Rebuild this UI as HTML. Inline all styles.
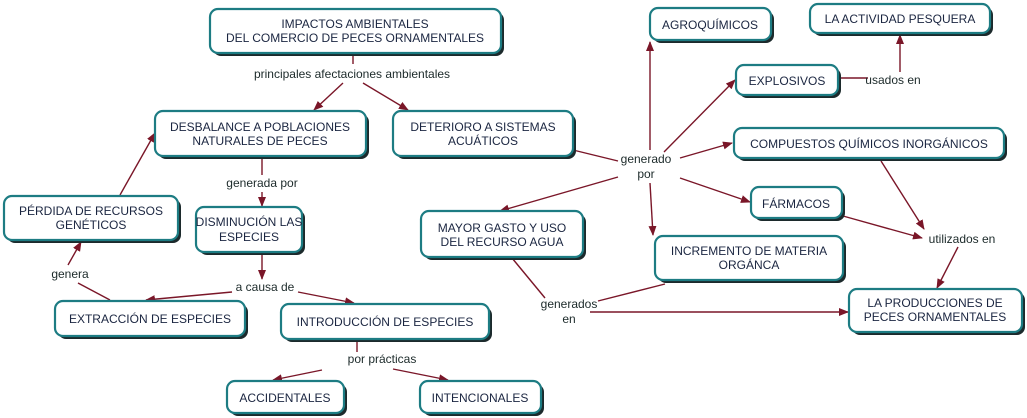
<!DOCTYPE html>
<html><head><meta charset="utf-8"><style>
html,body{margin:0;padding:0;background:#fff;}
svg{display:block;}
.b{fill:#fff;stroke:#1d7c83;stroke-width:2.2;}
.s{fill:#1c2a2c;}
.t{font-family:"Liberation Sans",sans-serif;font-size:12px;fill:#1a2540;text-anchor:middle;}
.l{font-family:"Liberation Sans",sans-serif;font-size:12px;fill:#1c2a2a;text-anchor:middle;}
.c{stroke:#7a1628;stroke-width:1.4;fill:none;}
</style></head><body>
<svg width="1027" height="418" viewBox="0 0 1027 418">
<defs><marker id="a" markerWidth="10" markerHeight="8" refX="9" refY="4" orient="auto" markerUnits="userSpaceOnUse"><path d="M0,0 L10,4 L0,8 z" fill="#7a1628"/></marker></defs>
<g class="c">
<line x1="353" y1="55" x2="353" y2="64"/>
<line x1="343" y1="83" x2="314" y2="110" marker-end="url(#a)"/>
<line x1="363" y1="83" x2="408" y2="110" marker-end="url(#a)"/>
<line x1="262" y1="157" x2="262" y2="175"/>
<line x1="262" y1="192" x2="262" y2="206" marker-end="url(#a)"/>
<line x1="262" y1="253" x2="262" y2="279" marker-end="url(#a)"/>
<line x1="232" y1="292" x2="146" y2="300" marker-end="url(#a)"/>
<line x1="298" y1="292" x2="354" y2="303" marker-end="url(#a)"/>
<line x1="110" y1="300" x2="78" y2="283"/>
<line x1="68" y1="265" x2="81" y2="242" marker-end="url(#a)"/>
<line x1="120" y1="195" x2="155" y2="133" marker-end="url(#a)"/>
<line x1="357" y1="340" x2="357" y2="352"/>
<line x1="322" y1="370" x2="273" y2="380" marker-end="url(#a)"/>
<line x1="393" y1="369" x2="448" y2="380" marker-end="url(#a)"/>
<line x1="573" y1="150" x2="618" y2="161"/>
<line x1="650" y1="150" x2="650" y2="42" marker-end="url(#a)"/>
<line x1="664" y1="152" x2="735" y2="80" marker-end="url(#a)"/>
<line x1="680" y1="158" x2="732" y2="143" marker-end="url(#a)"/>
<line x1="680" y1="178" x2="750" y2="202" marker-end="url(#a)"/>
<line x1="650" y1="183" x2="653" y2="235" marker-end="url(#a)"/>
<line x1="618" y1="177" x2="500" y2="211" marker-end="url(#a)"/>
<line x1="838" y1="78" x2="868" y2="78"/>
<line x1="900" y1="72" x2="900" y2="35" marker-end="url(#a)"/>
<line x1="881" y1="161" x2="924" y2="229" marker-end="url(#a)"/>
<line x1="843" y1="216" x2="922" y2="238" marker-end="url(#a)"/>
<line x1="958" y1="247" x2="937" y2="288" marker-end="url(#a)"/>
<line x1="512" y1="258" x2="545" y2="298"/>
<line x1="665" y1="284" x2="598" y2="301"/>
<line x1="590" y1="312" x2="848" y2="312" marker-end="url(#a)"/>
</g>
<g>
<rect class="s" x="213" y="12" width="291" height="44" rx="8"/><rect class="b" x="210" y="9" width="291" height="44" rx="8"/>
<rect class="s" x="158" y="114" width="211" height="45" rx="8"/><rect class="b" x="155" y="111" width="211" height="45" rx="8"/>
<rect class="s" x="396" y="114" width="180" height="45" rx="8"/><rect class="b" x="393" y="111" width="180" height="45" rx="8"/>
<rect class="s" x="7" y="199" width="174" height="44" rx="8"/><rect class="b" x="4" y="196" width="174" height="44" rx="8"/>
<rect class="s" x="199" y="210" width="106" height="45" rx="8"/><rect class="b" x="196" y="207" width="106" height="45" rx="8"/>
<rect class="s" x="58" y="304" width="190" height="35" rx="8"/><rect class="b" x="55" y="301" width="190" height="35" rx="8"/>
<rect class="s" x="284" y="307" width="208" height="35" rx="8"/><rect class="b" x="281" y="304" width="208" height="35" rx="8"/>
<rect class="s" x="230" y="384" width="117" height="32" rx="8"/><rect class="b" x="227" y="381" width="117" height="32" rx="8"/>
<rect class="s" x="423" y="384" width="121" height="32" rx="8"/><rect class="b" x="420" y="381" width="121" height="32" rx="8"/>
<rect class="s" x="653" y="11" width="121" height="32" rx="8"/><rect class="b" x="650" y="8" width="121" height="32" rx="8"/>
<rect class="s" x="813" y="7" width="180" height="29" rx="8"/><rect class="b" x="810" y="4" width="180" height="29" rx="8"/>
<rect class="s" x="739" y="68" width="102" height="30" rx="8"/><rect class="b" x="736" y="65" width="102" height="30" rx="8"/>
<rect class="s" x="737" y="131" width="270" height="30" rx="8"/><rect class="b" x="734" y="128" width="270" height="30" rx="8"/>
<rect class="s" x="754" y="190" width="91" height="31" rx="8"/><rect class="b" x="751" y="187" width="91" height="31" rx="8"/>
<rect class="s" x="424" y="214" width="162" height="46" rx="8"/><rect class="b" x="421" y="211" width="162" height="46" rx="8"/>
<rect class="s" x="658" y="239" width="188" height="44" rx="8"/><rect class="b" x="655" y="236" width="188" height="44" rx="8"/>
<rect class="s" x="852" y="292" width="173" height="43" rx="8"/><rect class="b" x="849" y="289" width="173" height="43" rx="8"/>
</g>
<g class="t">
<text x="355" y="28">IMPACTOS AMBIENTALES</text><text x="355" y="42">DEL COMERCIO DE PECES ORNAMENTALES</text>
<text x="260" y="131">DESBALANCE A POBLACIONES</text><text x="260" y="145">NATURALES DE PECES</text>
<text x="483" y="131">DETERIORO A SISTEMAS</text><text x="483" y="145">ACUÁTICOS</text>
<text x="91" y="215">PÉRDIDA DE RECURSOS</text><text x="91" y="229">GENÉTICOS</text>
<text x="249" y="226">DISMINUCIÓN LAS</text><text x="249" y="241">ESPECIES</text>
<text x="150" y="323">EXTRACCIÓN DE ESPECIES</text>
<text x="385" y="326">INTRODUCCIÓN DE ESPECIES</text>
<text x="285" y="402">ACCIDENTALES</text>
<text x="480" y="402">INTENCIONALES</text>
<text x="710" y="29">AGROQUÍMICOS</text>
<text x="900" y="23">LA ACTIVIDAD PESQUERA</text>
<text x="787" y="85">EXPLOSIVOS</text>
<text x="869" y="148">COMPUESTOS QUÍMICOS INORGÁNICOS</text>
<text x="796" y="208">FÁRMACOS</text>
<text x="502" y="232">MAYOR GASTO Y USO</text><text x="502" y="246">DEL RECURSO AGUA</text>
<text x="749" y="255">INCREMENTO DE MATERIA</text><text x="749" y="269">ORGÁNCA</text>
<text x="935" y="307">LA PRODUCCIONES DE</text><text x="935" y="321">PECES ORNAMENTALES</text>
</g>
<g class="l">
<text x="352" y="78">principales afectaciones ambientales</text>
<text x="262" y="187">generada por</text>
<text x="265" y="291">a causa de</text>
<text x="70" y="278">genera</text>
<text x="382" y="363">por prácticas</text>
<text x="646" y="163">generado</text><text x="646" y="178">por</text>
<text x="893" y="84">usados en</text>
<text x="962" y="243">utilizados en</text>
<text x="569" y="308">generados</text><text x="569" y="323">en</text>
</g>
</svg>
</body></html>
